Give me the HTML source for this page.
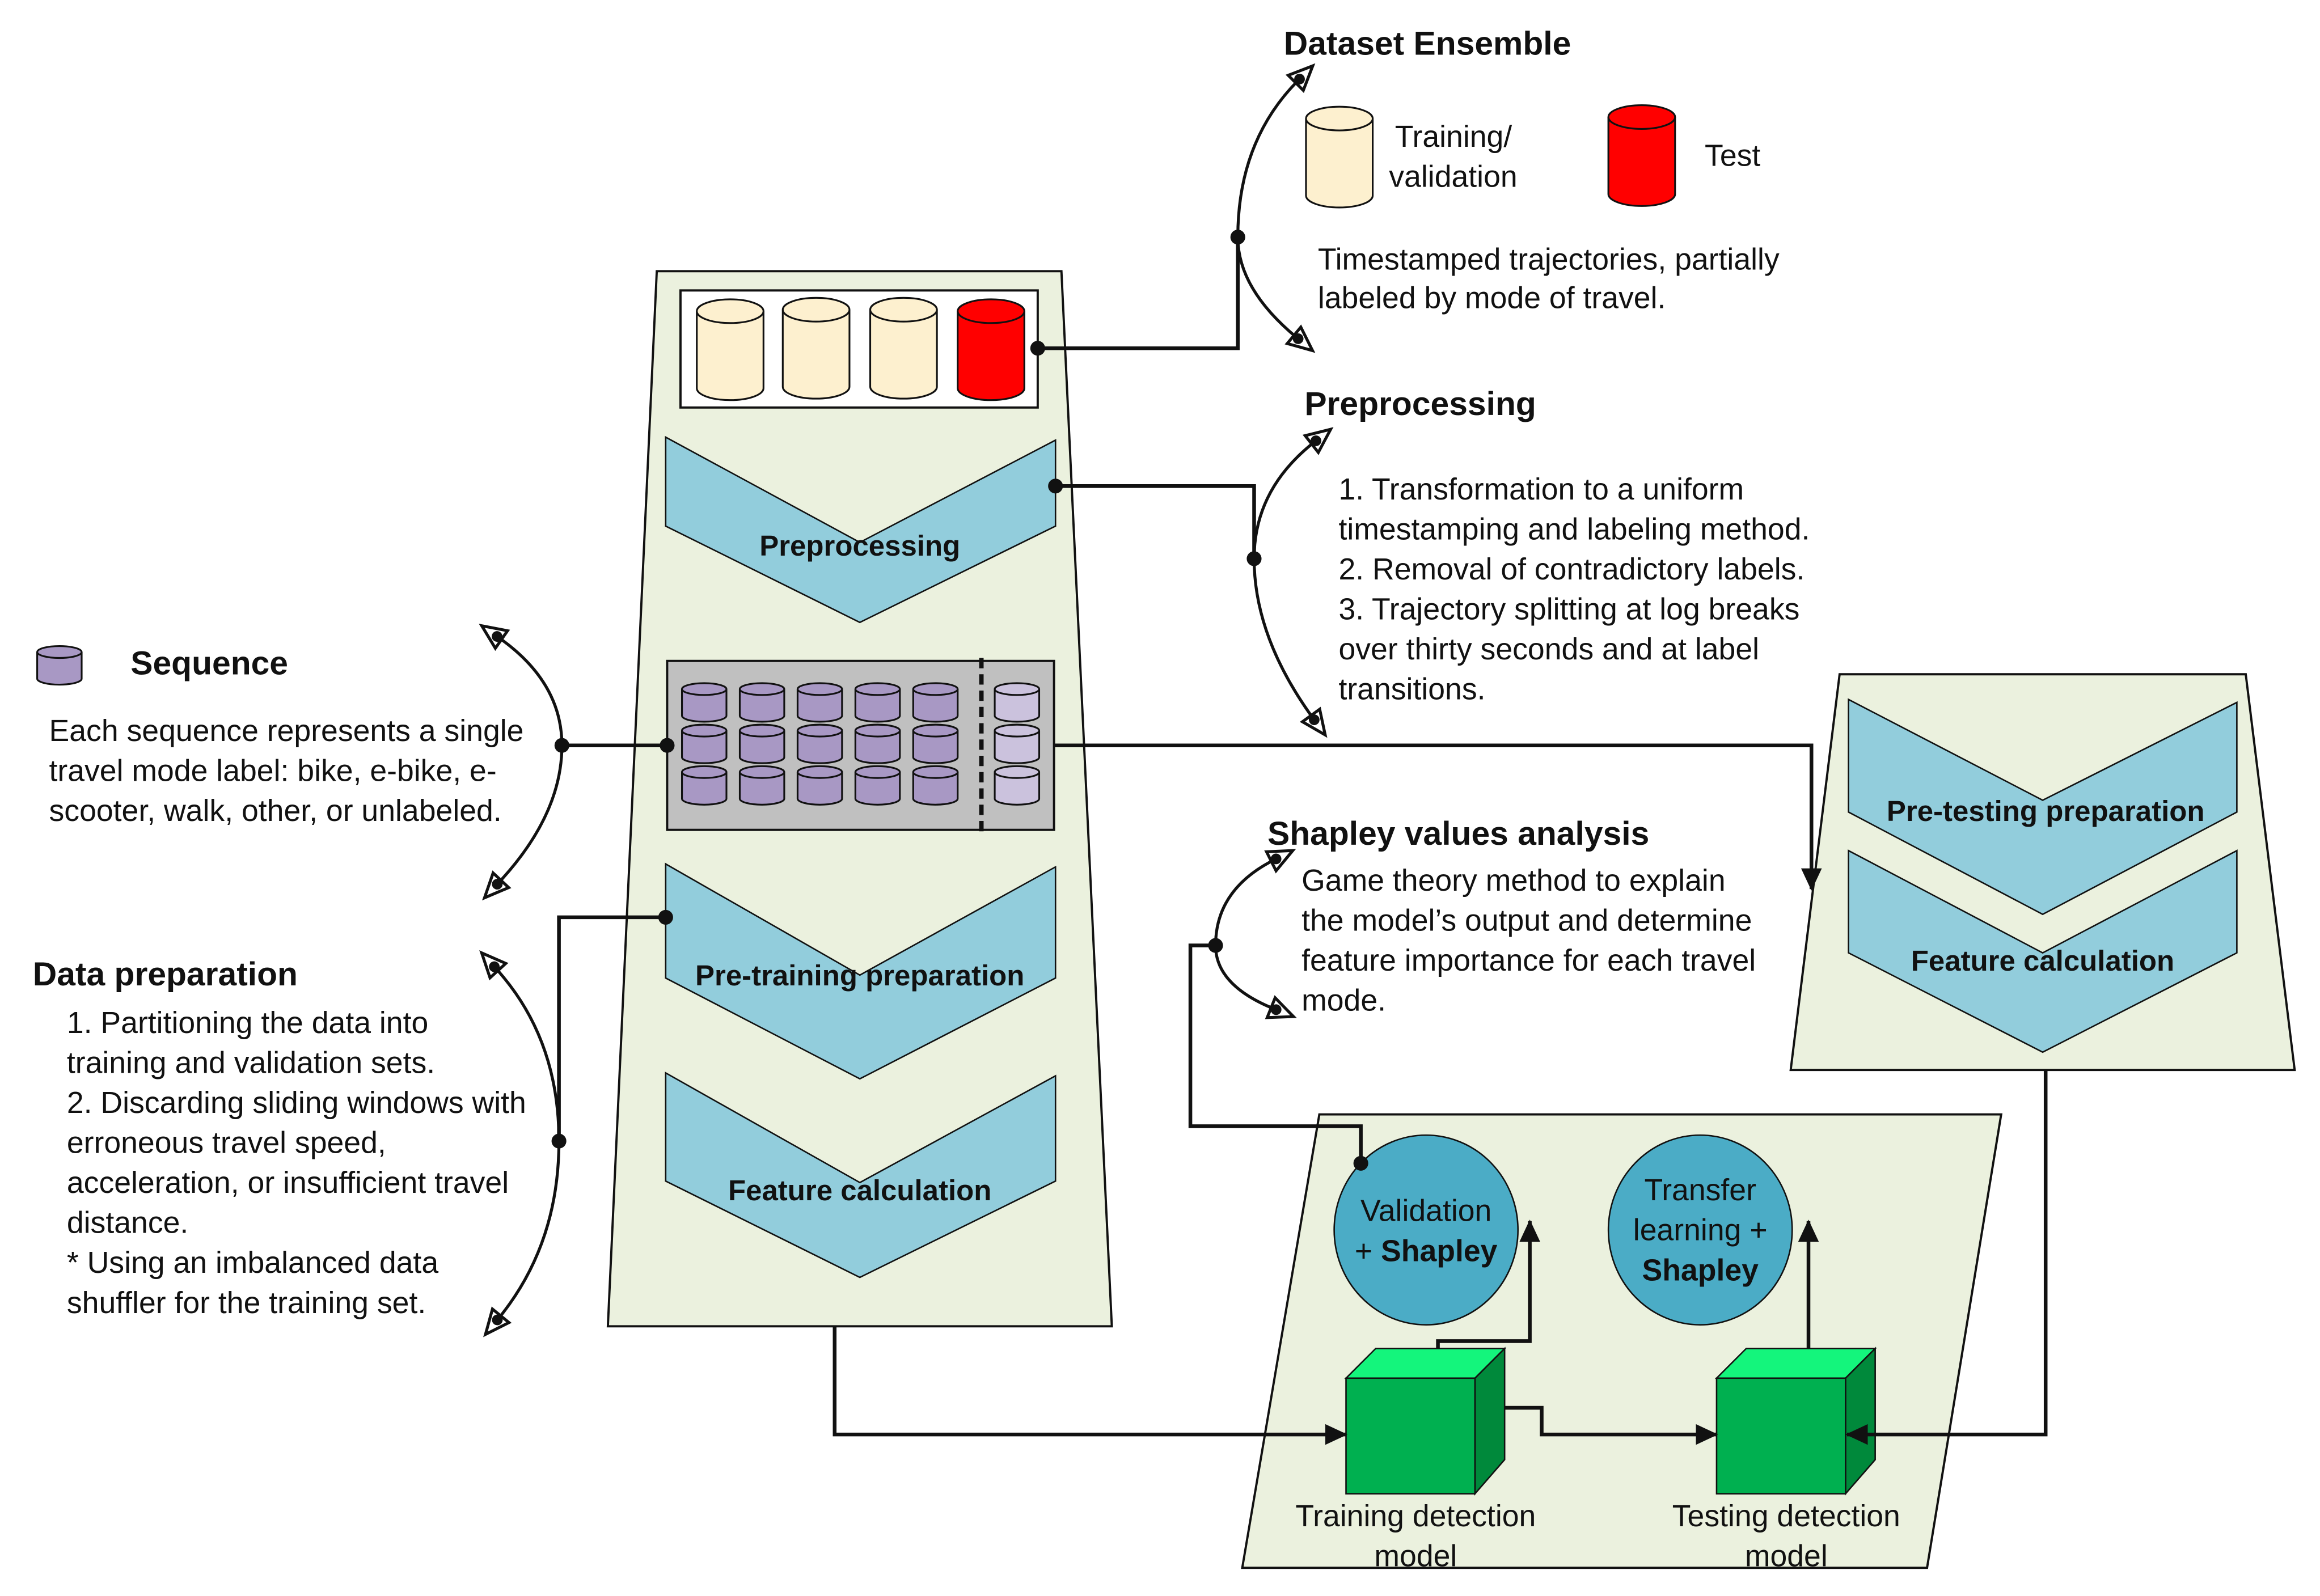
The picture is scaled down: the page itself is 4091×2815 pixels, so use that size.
<!DOCTYPE html>
<html><head><meta charset="utf-8"><style>
html,body{margin:0;padding:0;background:#fff}
svg{display:block}
text{font-family:"Liberation Sans",sans-serif;fill:#111}
.b{font-size:20.5px}
.h{font-size:22.5px;font-weight:bold}
.c{font-size:19.5px;font-weight:bold;text-anchor:middle}
.m{text-anchor:middle}
</style></head><body>
<svg width="4091" height="2815" viewBox="0 0 1565 1077" xmlns="http://www.w3.org/2000/svg">
<defs>
<symbol id="cylB" overflow="visible">
<path d="M0,8 V60 A22.5,8 0 0 0 45,60 V8" stroke="#111" stroke-width="1.2"/>
<ellipse cx="22.5" cy="8" rx="22.5" ry="8" stroke="#111" stroke-width="1.2"/>
</symbol>
<symbol id="cylS" overflow="visible">
<path d="M0,4 V22 A15,4 0 0 0 30,22 V4" stroke="#111" stroke-width="1.2"/>
<ellipse cx="15" cy="4" rx="15" ry="4" stroke="#111" stroke-width="1.2"/>
</symbol>
<marker id="ha" markerUnits="userSpaceOnUse" markerWidth="22" markerHeight="18" refX="5" refY="10" orient="auto-start-reverse" viewBox="0 0 24 20">
<path d="M2,2 L20,10 L2,18 Z" fill="#fff" stroke="#111" stroke-width="2.2"/>
<circle cx="6" cy="10" r="4" fill="#111"/>
</marker>
<marker id="fa" markerUnits="userSpaceOnUse" markerWidth="16" markerHeight="16" refX="14" refY="8" orient="auto" viewBox="0 0 16 16">
<path d="M0,1 L15,8 L0,15 Z" fill="#111"/>
</marker>
</defs>

<polygon points="443,183 716,183 750,895 410,895" fill="#ebf1de" stroke="#111" stroke-width="1.5"/>
<rect x="459" y="196" width="241" height="79" fill="#fff" stroke="#111" stroke-width="1.5"/>
<use href="#cylB" x="470" y="202" fill="#fdf0cf"/>
<use href="#cylB" x="528" y="201" fill="#fdf0cf"/>
<use href="#cylB" x="587" y="201" fill="#fdf0cf"/>
<use href="#cylB" x="646" y="202" fill="#ff0000"/>

<polygon points="449,295 580,366 712,297 712,355 580,420 449,355" fill="#92cddc" stroke="#111" stroke-width="1"/>
<text class="c" x="580" y="375">Preprocessing</text>

<rect x="450" y="446" width="261" height="114" fill="#c0c0c0" stroke="#111" stroke-width="1.5"/>
<g fill="#a898c4">
<use href="#cylS" x="460" y="461"/><use href="#cylS" x="499" y="461"/><use href="#cylS" x="538" y="461"/><use href="#cylS" x="577" y="461"/><use href="#cylS" x="616" y="461"/>
<use href="#cylS" x="460" y="489"/><use href="#cylS" x="499" y="489"/><use href="#cylS" x="538" y="489"/><use href="#cylS" x="577" y="489"/><use href="#cylS" x="616" y="489"/>
<use href="#cylS" x="460" y="517"/><use href="#cylS" x="499" y="517"/><use href="#cylS" x="538" y="517"/><use href="#cylS" x="577" y="517"/><use href="#cylS" x="616" y="517"/>
</g>
<g fill="#cbc2dd">
<use href="#cylS" x="671" y="461"/><use href="#cylS" x="671" y="489"/><use href="#cylS" x="671" y="517"/>
</g>
<line x1="662" y1="444" x2="662" y2="563" stroke="#111" stroke-width="3" stroke-dasharray="7,4"/>

<polygon points="449,583 580,658 712,585 712,660 580,728 449,660" fill="#92cddc" stroke="#111" stroke-width="1"/>
<text class="c" x="580" y="665">Pre-training preparation</text>
<polygon points="449,724 580,798 712,726 712,797 580,862 449,797" fill="#92cddc" stroke="#111" stroke-width="1"/>
<text class="c" x="580" y="810">Feature calculation</text>

<polygon points="1241,455 1515,455 1548,722 1208,722" fill="#ebf1de" stroke="#111" stroke-width="1.5"/>
<polygon points="1247,472 1378,540 1509,474 1509,548 1378,617 1247,548" fill="#92cddc" stroke="#111" stroke-width="1"/>
<text class="c" x="1380" y="554">Pre-testing preparation</text>
<polygon points="1247,574 1378,643 1509,574 1509,643 1378,710 1247,643" fill="#92cddc" stroke="#111" stroke-width="1"/>
<text class="c" x="1378" y="655">Feature calculation</text>

<polygon points="890,752 1350,752 1300,1058 838,1058" fill="#ebf1de" stroke="#111" stroke-width="1.5"/>
<ellipse cx="962" cy="830" rx="62" ry="64" fill="#4bacc6" stroke="#111" stroke-width="1"/>
<ellipse cx="1147" cy="830" rx="62" ry="64" fill="#4bacc6" stroke="#111" stroke-width="1"/>
<text class="m" x="962" y="824" style="font-size:20.5px">Validation</text>
<text class="m" x="962" y="851" style="font-size:20.5px">+ <tspan font-weight="bold">Shapley</tspan></text>
<text class="m" x="1147" y="810" style="font-size:20.5px">Transfer</text>
<text class="m" x="1147" y="837" style="font-size:20.5px">learning +</text>
<text class="m" x="1147" y="864" style="font-size:20.5px;font-weight:bold">Shapley</text>

<g stroke="#111" stroke-width="1">
<polygon points="908,930 928,910 1015,910 995,930" fill="#14f57c"/>
<polygon points="995,930 1015,910 1015,985 995,1008" fill="#00893b"/>
<rect x="908" y="930" width="87" height="78" fill="#00b050"/>
<polygon points="1158,930 1178,910 1265,910 1245,930" fill="#14f57c"/>
<polygon points="1245,930 1265,910 1265,985 1245,1008" fill="#00893b"/>
<rect x="1158" y="930" width="87" height="78" fill="#00b050"/>
</g>
<text class="m" x="955" y="1030" style="font-size:20.5px">Training detection</text>
<text class="m" x="955" y="1057" style="font-size:20.5px">model</text>
<text class="m" x="1205" y="1030" style="font-size:20.5px">Testing detection</text>
<text class="m" x="1205" y="1057" style="font-size:20.5px">model</text>

<g fill="none" stroke="#111" stroke-width="2.5">
<polyline points="700,235 835,235 835,160"/>
<polyline points="712,328 846,328 846,377"/>
<polyline points="450,503 379,503"/>
<polyline points="711,503 1222,503 1222,600" marker-end="url(#fa)"/>
<polyline points="449,619 377,619 377,770"/>
<polyline points="563,895 563,968 908,968" marker-end="url(#fa)"/>
<polyline points="1380,722 1380,968 1246,968" marker-end="url(#fa)"/>
<polyline points="970,910 970,905 1032,905 1032,824" marker-end="url(#fa)"/>
<polyline points="1015,950 1040,950 1040,968 1158,968" marker-end="url(#fa)"/>
<polyline points="1220,910 1220,824" marker-end="url(#fa)"/>
<polyline points="918,785 918,760 803,760 803,638 820,638"/>
</g>
<g fill="none" stroke="#111" stroke-width="2">
<path d="M876,54 Q835,95 835,160 Q835,195 875,228" marker-start="url(#ha)" marker-end="url(#ha)"/>
<path d="M887,298 Q846,330 846,377 Q846,430 886,485" marker-start="url(#ha)" marker-end="url(#ha)"/>
<path d="M336,430 Q379,460 379,503 Q379,550 336,596" marker-start="url(#ha)" marker-end="url(#ha)"/>
<path d="M334,653 Q377,700 377,770 Q377,840 336,890" marker-start="url(#ha)" marker-end="url(#ha)"/>
<path d="M860,580 Q820,600 820,638 Q820,665 860,681" marker-start="url(#ha)" marker-end="url(#ha)"/>
</g>
<g fill="#111">
<circle cx="700" cy="235" r="5"/><circle cx="835" cy="160" r="5"/>
<circle cx="712" cy="328" r="5"/><circle cx="846" cy="377" r="5"/>
<circle cx="450" cy="503" r="5"/><circle cx="379" cy="503" r="5"/>
<circle cx="449" cy="619" r="5"/><circle cx="377" cy="770" r="5"/>
<circle cx="918" cy="785" r="5"/><circle cx="820" cy="638" r="5"/>
</g>

<text class="h" x="866" y="37">Dataset Ensemble</text>
<use href="#cylB" x="881" y="72" fill="#fdf0cf"/>
<use href="#cylB" x="1085" y="71" fill="#ff0000"/>
<text class="b" x="941" y="99">Training/</text>
<text class="b" x="937" y="126">validation</text>
<text class="b" x="1150" y="112">Test</text>
<text class="b" x="889" y="182">Timestamped trajectories, partially</text>
<text class="b" x="889" y="208">labeled by mode of travel.</text>

<text class="h" x="880" y="280">Preprocessing</text>
<text class="b" x="903" y="337">1. Transformation to a uniform</text>
<text class="b" x="903" y="364">timestamping and labeling method.</text>
<text class="b" x="903" y="391">2. Removal of contradictory labels.</text>
<text class="b" x="903" y="418">3. Trajectory splitting at log breaks</text>
<text class="b" x="903" y="445">over thirty seconds and at label</text>
<text class="b" x="903" y="472">transitions.</text>

<use href="#cylS" x="25" y="436" fill="#a898c4"/>
<text class="h" x="88" y="455">Sequence</text>
<text class="b" x="33" y="500">Each sequence represents a single</text>
<text class="b" x="33" y="527">travel mode label: bike, e-bike, e-</text>
<text class="b" x="33" y="554">scooter, walk, other, or unlabeled.</text>

<text class="h" x="22" y="665">Data preparation</text>
<text class="b" x="45" y="697">1. Partitioning the data into</text>
<text class="b" x="45" y="724">training and validation sets.</text>
<text class="b" x="45" y="751">2. Discarding sliding windows with</text>
<text class="b" x="45" y="778">erroneous travel speed,</text>
<text class="b" x="45" y="805">acceleration, or insufficient travel</text>
<text class="b" x="45" y="832">distance.</text>
<text class="b" x="45" y="859">* Using an imbalanced data</text>
<text class="b" x="45" y="886">shuffler for the training set.</text>

<text class="h" x="855" y="570">Shapley values analysis</text>
<text class="b" x="878" y="601">Game theory method to explain</text>
<text class="b" x="878" y="628">the model’s output and determine</text>
<text class="b" x="878" y="655">feature importance for each travel</text>
<text class="b" x="878" y="682">mode.</text>
</svg>
</body></html>
